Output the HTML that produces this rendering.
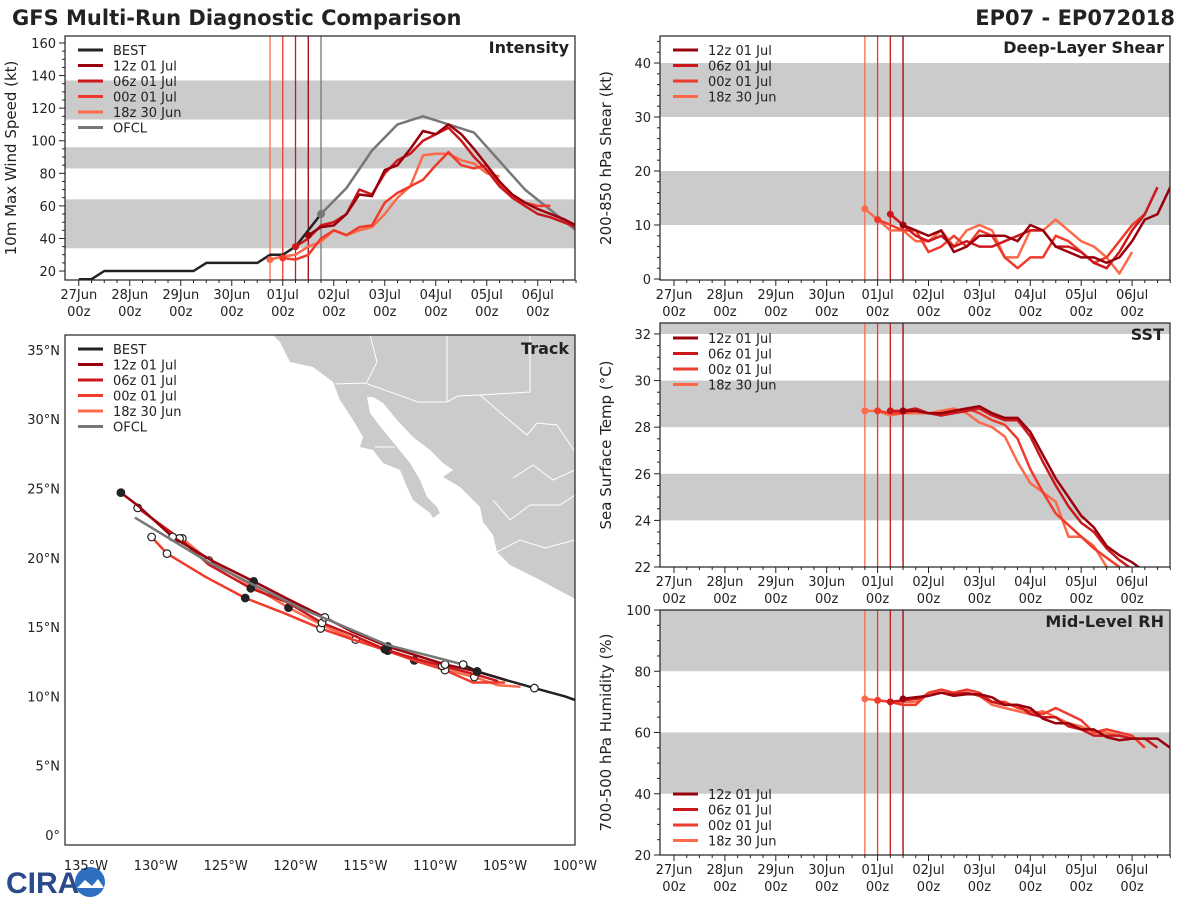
<!DOCTYPE html>
<html><head><meta charset="utf-8"><style>
html,body{margin:0;padding:0;background:#fff;}
svg{display:block;font-family:"DejaVu Sans","Liberation Sans",sans-serif;}
</style></head><body>
<svg id="fig" width="1200" height="900" viewBox="0 0 1200 900" xmlns="http://www.w3.org/2000/svg">
<text x="12" y="25" font-size="21" font-weight="bold" fill="#222">GFS Multi-Run Diagnostic Comparison</text>
<text x="1175" y="25" font-size="21" font-weight="bold" fill="#222" text-anchor="end">EP07 - EP072018</text>
<g>
<text x="6" y="893" font-size="30" font-weight="bold" fill="#2a4a8a" font-family="Liberation Sans, sans-serif">CIRA</text>
<circle cx="90" cy="882" r="15" fill="#2e6fc0"/>
<path d="M77 888 L85 880 L92 886 L98 879 L104 888 Z" fill="#fff"/>
</g>
</svg>
<script>
// ===== DATA =====
const runNames = ["12z 01 Jul","06z 01 Jul","00z 01 Jul","18z 30 Jun"];
const runStarts = [4.5,4.25,4.0,3.75];
const dayLabels = ["27Jun","28Jun","29Jun","30Jun","01Jul","02Jul","03Jul","04Jul","05Jul","06Jul"];
const bestInt = [15,15,20,20,20,20,20,20,20,20,25,25,25,25,25,30,30,35,45,55];
const ofclT = [4.75,5.25,5.75,6.25,6.75,7.25,7.75,8.75,9.75];
const ofclV = [55,71,94,110,115,110,105,70,45];
const int12 = [42,47,48,55,67,66,82,85,95,106,104,110,104,95,85,75,67,62,58,55,52,48];
const int06 = [35,40,48,50,55,70,67,80,88,92,100,104,108,100,90,82,72,65,60,55,53,50,47];
const int00 = [28,27,30,40,45,42,47,48,62,68,72,76,85,93,85,83,85,73,65,62,60,60];
const int18 = [27,29,30,35,38,45,42,45,47,55,65,72,91,92,92,88,86,80,78];
const shr12 = [10,9,8,9,5,6,8,8,8,7,10,9,6,5,4,4,3,4,7,11,12,17];
const shr06 = [12,10,8,7,8,6,7,6,6,7,8,9,9,6,6,5,3,2,5,9,12,17];
const shr00 = [11,10,9,9,5,6,8,6,9,8,4,2,4,4,8,7,5,3,4,7,10,12];
const shr18 = [13,11,9,9,7,7,9,6,9,10,9,4,4,9,9,11,9,7,6,4,1,5];
const sst12 = [28.7,28.7,28.6,28.6,28.7,28.8,28.9,28.6,28.4,28.4,27.8,26.8,25.8,25.0,24.2,23.7,22.9,22.5,22.2,21.8];
const sst06 = [28.7,28.7,28.8,28.6,28.5,28.6,28.7,28.8,28.5,28.3,28.3,27.6,26.5,25.5,24.6,23.9,23.5,22.8,22.3,21.9];
const sst00 = [28.7,28.6,28.6,28.7,28.6,28.6,28.7,28.8,28.6,28.3,28.1,27.5,26.2,25.2,24.3,23.8,23.3,22.8,22.4,22.0];
const sst18 = [28.7,28.7,28.5,28.6,28.6,28.6,28.7,28.8,28.6,28.2,28.0,27.6,26.5,25.6,25.2,24.8,23.3,23.3,22.9,22.0];
const rh12 = [71,71.5,72,73,72,72.5,72.5,71.5,69,69,68,64.5,63,63,61,61,58.5,57.5,58,58,58,55,50];
const rh06 = [70,70.5,71,72,73,72.5,73,72,70,69,69,66,65,65,62,61,59,59,59,58,58,55];
const rh00 = [70.5,70,69,69,73,74,73,74,73,70,70,68,67,66,68,66,64,60,61,60,59,55];
const rh18 = [71,70.5,70,70,70,73,73,72,73,72,69,68,67,66,67,65,63,62,60,60,59,58];
const bestLon = [-100,-100.7,-102.9,-105.0,-107.0,-108.0];
const bestLat = [9.75,10.0,10.6,11.2,11.8,12.3];
const ofclLon = [-108.0,-113.4,-119.7,-126.1,-131.5];
const ofclLat = [12.3,13.7,16.4,19.6,22.9];
const trk12Lon = [-105,-107,-109.3,-111.5,-113.4,-116,-117.9,-120.5,-123,-126,-128.8,-131.2,-132.5];
const trk12Lat = [11.2,11.8,12.3,13.0,13.6,14.7,15.7,17.0,18.3,19.8,21.5,23.7,24.7];
const trk06Lon = [-105.5,-107.2,-109.5,-111.7,-113.6,-116.1,-118.1,-120.6,-123.2,-126.2,-128.3,-131.3];
const trk06Lat = [11.1,11.6,12.2,12.8,13.4,14.5,15.3,16.8,17.8,19.5,21.4,23.6];
const trk00Lon = [-105.0,-107.3,-109.3,-111.5,-113.4,-115.9,-118.2,-120.8,-123.6,-126.4,-129.2,-130.3];
const trk00Lat = [11.0,11.0,11.9,12.6,13.3,14.1,14.9,16.0,17.1,18.6,20.3,21.5];
const trk18Lon = [-103.9,-105.5,-107.2,-109.5,-111.5,-113.5,-115.7,-118.0,-120.5,-123.0,-126.2,-128.1];
const trk18Lat = [10.7,10.8,11.4,12.0,12.6,13.3,14.1,15.1,16.4,17.9,19.8,21.4];
const lonTicks = [-135,-130,-125,-120,-115,-110,-105,-100];
const latTicks = [0,5,10,15,20,25,30,35];

// ===== HELPERS =====
const NS="http://www.w3.org/2000/svg";
const svg=document.getElementById('fig');
const colors=["#99000d","#cb181d","#ef3b2c","#fb6a4a"];
function mk(tag,attrs,parent){const e=document.createElementNS(NS,tag);for(const k in attrs)e.setAttribute(k,attrs[k]);(parent||svg).appendChild(e);return e;}
function txt(x,y,s,attrs,parent){const e=mk('text',Object.assign({x:x,y:y,'font-size':13,fill:'#222'},attrs||{}),parent);e.textContent=s;return e;}

function timePanel(p){
  const g=mk('g',{});
  
  
  const sx=t=>p.x0+(t-p.tmin)/(p.tmax-p.tmin)*(p.x1-p.x0);
  const sy=v=>p.y1-(v-p.ymin)/(p.ymax-p.ymin)*(p.y1-p.y0);
  const clipId='clip-'+p.name;
  const cp=mk('clipPath',{id:clipId},g);mk('rect',{x:p.x0,y:p.y0,width:p.x1-p.x0,height:p.y1-p.y0},cp);
  p.bands.forEach(b=>{const top=Math.min(b[1],p.ymax);const r=mk('rect',{x:p.x0,y:sy(top),width:p.x1-p.x0,height:sy(b[0])-sy(top),fill:'#cbcbcb'},g);
    
    });
  const vls=p.ofclLine?[[4.75,'#777']]:[];
  runStarts.forEach((s,i)=>vls.push([s,colors[i]]));
  vls.forEach(v=>{const l=mk('line',{x1:sx(v[0]),x2:sx(v[0]),y1:p.y0,y2:p.y1,stroke:v[1],'stroke-width':1.3},g);
    
    });
  const lg=mk('g',{'clip-path':'url(#'+clipId+')'},g);
  function series(ts,vs,col,w,name){
    const pts=vs.map((v,i)=>sx(ts[i]).toFixed(1)+','+sy(v).toFixed(1)).join(' ');
    const pl=mk('polyline',{points:pts,fill:'none',stroke:col,'stroke-width':w,'stroke-linejoin':'round'},lg);
    
    
  }
  if(p.best){series(bestInt.map((v,i)=>i*0.25),bestInt,'#222',2.5,'best-line');
    series(ofclT,ofclV,'#777',2.5,'ofcl-line');
    const c=mk('circle',{cx:sx(4.75),cy:sy(55),r:4,fill:'#777'},lg);
    
    }
  for(let i=3;i>=0;i--){const vs=p.runs[i];const ts=vs.map((v,k)=>runStarts[i]+k*0.25);
    series(ts,vs,colors[i],2.5,'run-line-'+runNames[i].replace(/ /g,'-').toLowerCase());
    const c=mk('circle',{cx:sx(ts[0]),cy:sy(vs[0]),r:3.5,fill:colors[i]},lg);
    
    }
  const fr=mk('rect',{x:p.x0,y:p.y0,width:p.x1-p.x0,height:p.y1-p.y0,fill:'none',stroke:'#222','stroke-width':1.2},g);
  
  
  for(let t=0;t<=9.75;t+=0.25){const X=sx(t);const major=Math.abs(t-Math.round(t))<1e-6;
    mk('line',{x1:X,x2:X,y1:p.y1,y2:p.y1+(major?6:3),stroke:'#222'},g);}
  dayLabels.forEach((d,i)=>{const X=sx(i);
    const a=txt(X,p.y1+19,d,{'text-anchor':'middle'},g);
    const b=txt(X,p.y1+36,'00z',{'text-anchor':'middle'},g);});
  for(let v=p.ymin0;v<=p.ymax;v+=p.minor){const Y=sy(v);const major=Math.abs((v-p.ymin0)%p.major)<1e-6;
    mk('line',{x1:p.x0,x2:p.x0-(major?6:3),y1:Y,y2:Y,stroke:'#222'},g);
    if(major){const t=txt(p.x0-9,Y+5,String(Math.round(v)),{'text-anchor':'end'},g);
      
      }}
  const yl=txt(0,0,p.ylabel,{'text-anchor':'middle','font-size':15,transform:'translate('+(p.x0-49)+','+((p.y0+p.y1)/2)+') rotate(-90)'},g);
  
  
  const ti=txt(p.x1-6,p.y0+17,p.title,{'text-anchor':'end','font-size':16,'font-weight':'bold'},g);
  
  
  const ent=p.best?[['BEST','#222']].concat(runNames.map((n,i)=>[n,colors[i]])).concat([['OFCL','#777']]):runNames.map((n,i)=>[n,colors[i]]);
  ent.forEach((e,i)=>{const Y=p.legY+i*15.5;
    const lg2=mk('g',{},g);
    
    
    mk('line',{x1:p.x0+13,x2:p.x0+38,y1:Y,y2:Y,stroke:e[1],'stroke-width':3},lg2);
    txt(p.x0+48,Y+5,e[0],{},lg2);});
}

timePanel({name:'intensity-panel',x0:65,x1:575,y0:36,y1:280,tmin:-0.27,tmax:9.73,ymin:14.5,ymax:164.3,ymin0:20,major:20,minor:5,
  bands:[[34,64],[83,96],[113,137]],best:true,ofclLine:true,runs:[int12,int06,int00,int18],ylabel:'10m Max Wind Speed (kt)',title:'Intensity',legY:50});
timePanel({name:'shear-panel',x0:660,x1:1170,y0:36,y1:280,tmin:-0.275,tmax:9.745,ymin:-0.185,ymax:45,ymin0:0,major:10,minor:2,
  bands:[[10,20],[30,40]],runs:[shr12,shr06,shr00,shr18],ylabel:'200-850 hPa Shear (kt)',title:'Deep-Layer Shear',legY:50});
timePanel({name:'sst-panel',x0:660,x1:1170,y0:323,y1:567,tmin:-0.275,tmax:9.745,ymin:22,ymax:32.47,ymin0:22,major:2,minor:0.5,
  bands:[[24,26],[28,30],[32,33]],runs:[sst12,sst06,sst00,sst18],ylabel:'Sea Surface Temp (°C)',title:'SST',legY:338});
timePanel({name:'rh-panel',x0:660,x1:1170,y0:610,y1:855,tmin:-0.275,tmax:9.745,ymin:20,ymax:100,ymin0:20,major:20,minor:5,
  bands:[[40,60],[80,100]],runs:[rh12,rh06,rh00,rh18],ylabel:'700-500 hPa Humidity (%)',title:'Mid-Level RH',legY:794});

// ===== TRACK PANEL =====
(function(){
  const x0=65,x1=575,y0=335,y1=845;
  const sx=lon=>x0+(lon+136.5)*13.97;
  const sy=lat=>835-lat*13.86;
  const g=mk('g',{});
  
  
  const cp=mk('clipPath',{id:'clip-track'},g);mk('rect',{x:x0,y:y0,width:x1-x0,height:y1-y0},cp);
  const mg=mk('g',{'clip-path':'url(#clip-track)'},g);
  const land=[[272,334],[280,342],[285,352],[290,362],[313,367],[333,382],[340,400],[353,420],[363,437],[360,447],[373,450],[383,463],[400,470],[407,487],[413,500],[430,513],[433,518],[440,513],[437,507],[427,497],[420,480],[410,463],[397,447],[383,430],[370,413],[367,397],[373,397],[383,403],[397,420],[413,437],[430,450],[443,463],[453,470],[443,477],[460,487],[480,507],[483,522],[493,535],[497,552],[510,565],[540,580],[577,600],[577,334]];
  const lp=mk('polygon',{points:land.map(p=>p[0]+','+p[1]).join(' '),fill:'#cbcbcb',stroke:'none'},mg);
  
  
  const borders=[[[335,384],[365,383],[418,402],[447,402],[458,396],[480,395],[503,415],[527,435],[537,423],[557,425],[575,452]],
    [[447,335],[447,402]],[[530,335],[530,392],[480,395]],[[370,335],[377,362],[367,382]],
    [[513,478],[533,465],[553,480],[575,470]],[[493,500],[510,520],[530,505],[560,505],[575,495]],[[497,552],[520,540],[545,548],[575,540]],[[375,447],[395,447]]];
  borders.forEach(b=>{const l=mk('polyline',{points:b.map(p=>p[0]+','+p[1]).join(' '),fill:'none',stroke:'#fff','stroke-width':1},mg);
    
    });
  function trk(lons,lats,col,name,markers){
    const pl=mk('polyline',{points:lons.map((v,i)=>sx(v).toFixed(1)+','+sy(lats[i]).toFixed(1)).join(' '),fill:'none',stroke:col,'stroke-width':2.5,'stroke-linejoin':'round'},mg);
    
    
    if(markers){lons.forEach((v,i)=>{if(i===0)return;if(i%2===0||i===lons.length-1){
      const c=mk('circle',{cx:sx(v),cy:sy(lats[i]),r:3.8,fill:(i%4===0)?'#222':'#fff',stroke:'#222','stroke-width':1.2},mg);
      
      }});}
  }
  trk(trk18Lon,trk18Lat,colors[3],'track-18z-30-jun',true);
  trk(trk00Lon,trk00Lat,colors[2],'track-00z-01-jul',true);
  trk(trk06Lon,trk06Lat,colors[1],'track-06z-01-jul',true);
  trk(trk12Lon,trk12Lat,colors[0],'track-12z-01-jul',true);
  trk(ofclLon,ofclLat,'#777','track-ofcl',false);
  trk(bestLon,bestLat,'#222','track-best',true);
  const fr=mk('rect',{x:x0,y:y0,width:x1-x0,height:y1-y0,fill:'none',stroke:'#222','stroke-width':1.2},g);
  
  
  lonTicks.forEach(v=>{const t=txt(sx(v),870,Math.abs(v)+'°W',{'text-anchor':'middle'},g);
    
    });
  latTicks.forEach(v=>{const t=txt(60,sy(v)+5,v===0?'0°':v+'°N',{'text-anchor':'end'},g);
    
    });
  const ti=txt(x1-6,y0+19,'Track',{'text-anchor':'end','font-size':16,'font-weight':'bold'},g);
  
  
  const ent=[['BEST','#222']].concat(runNames.map((n,i)=>[n,colors[i]])).concat([['OFCL','#777']]);
  ent.forEach((e,i)=>{const Y=349+i*15.5;
    const lg2=mk('g',{},g);
    
    
    mk('line',{x1:x0+13,x2:x0+38,y1:Y,y2:Y,stroke:e[1],'stroke-width':3},lg2);
    txt(x0+48,Y+5,e[0],{},lg2);});
})();
</script>
</body></html>
